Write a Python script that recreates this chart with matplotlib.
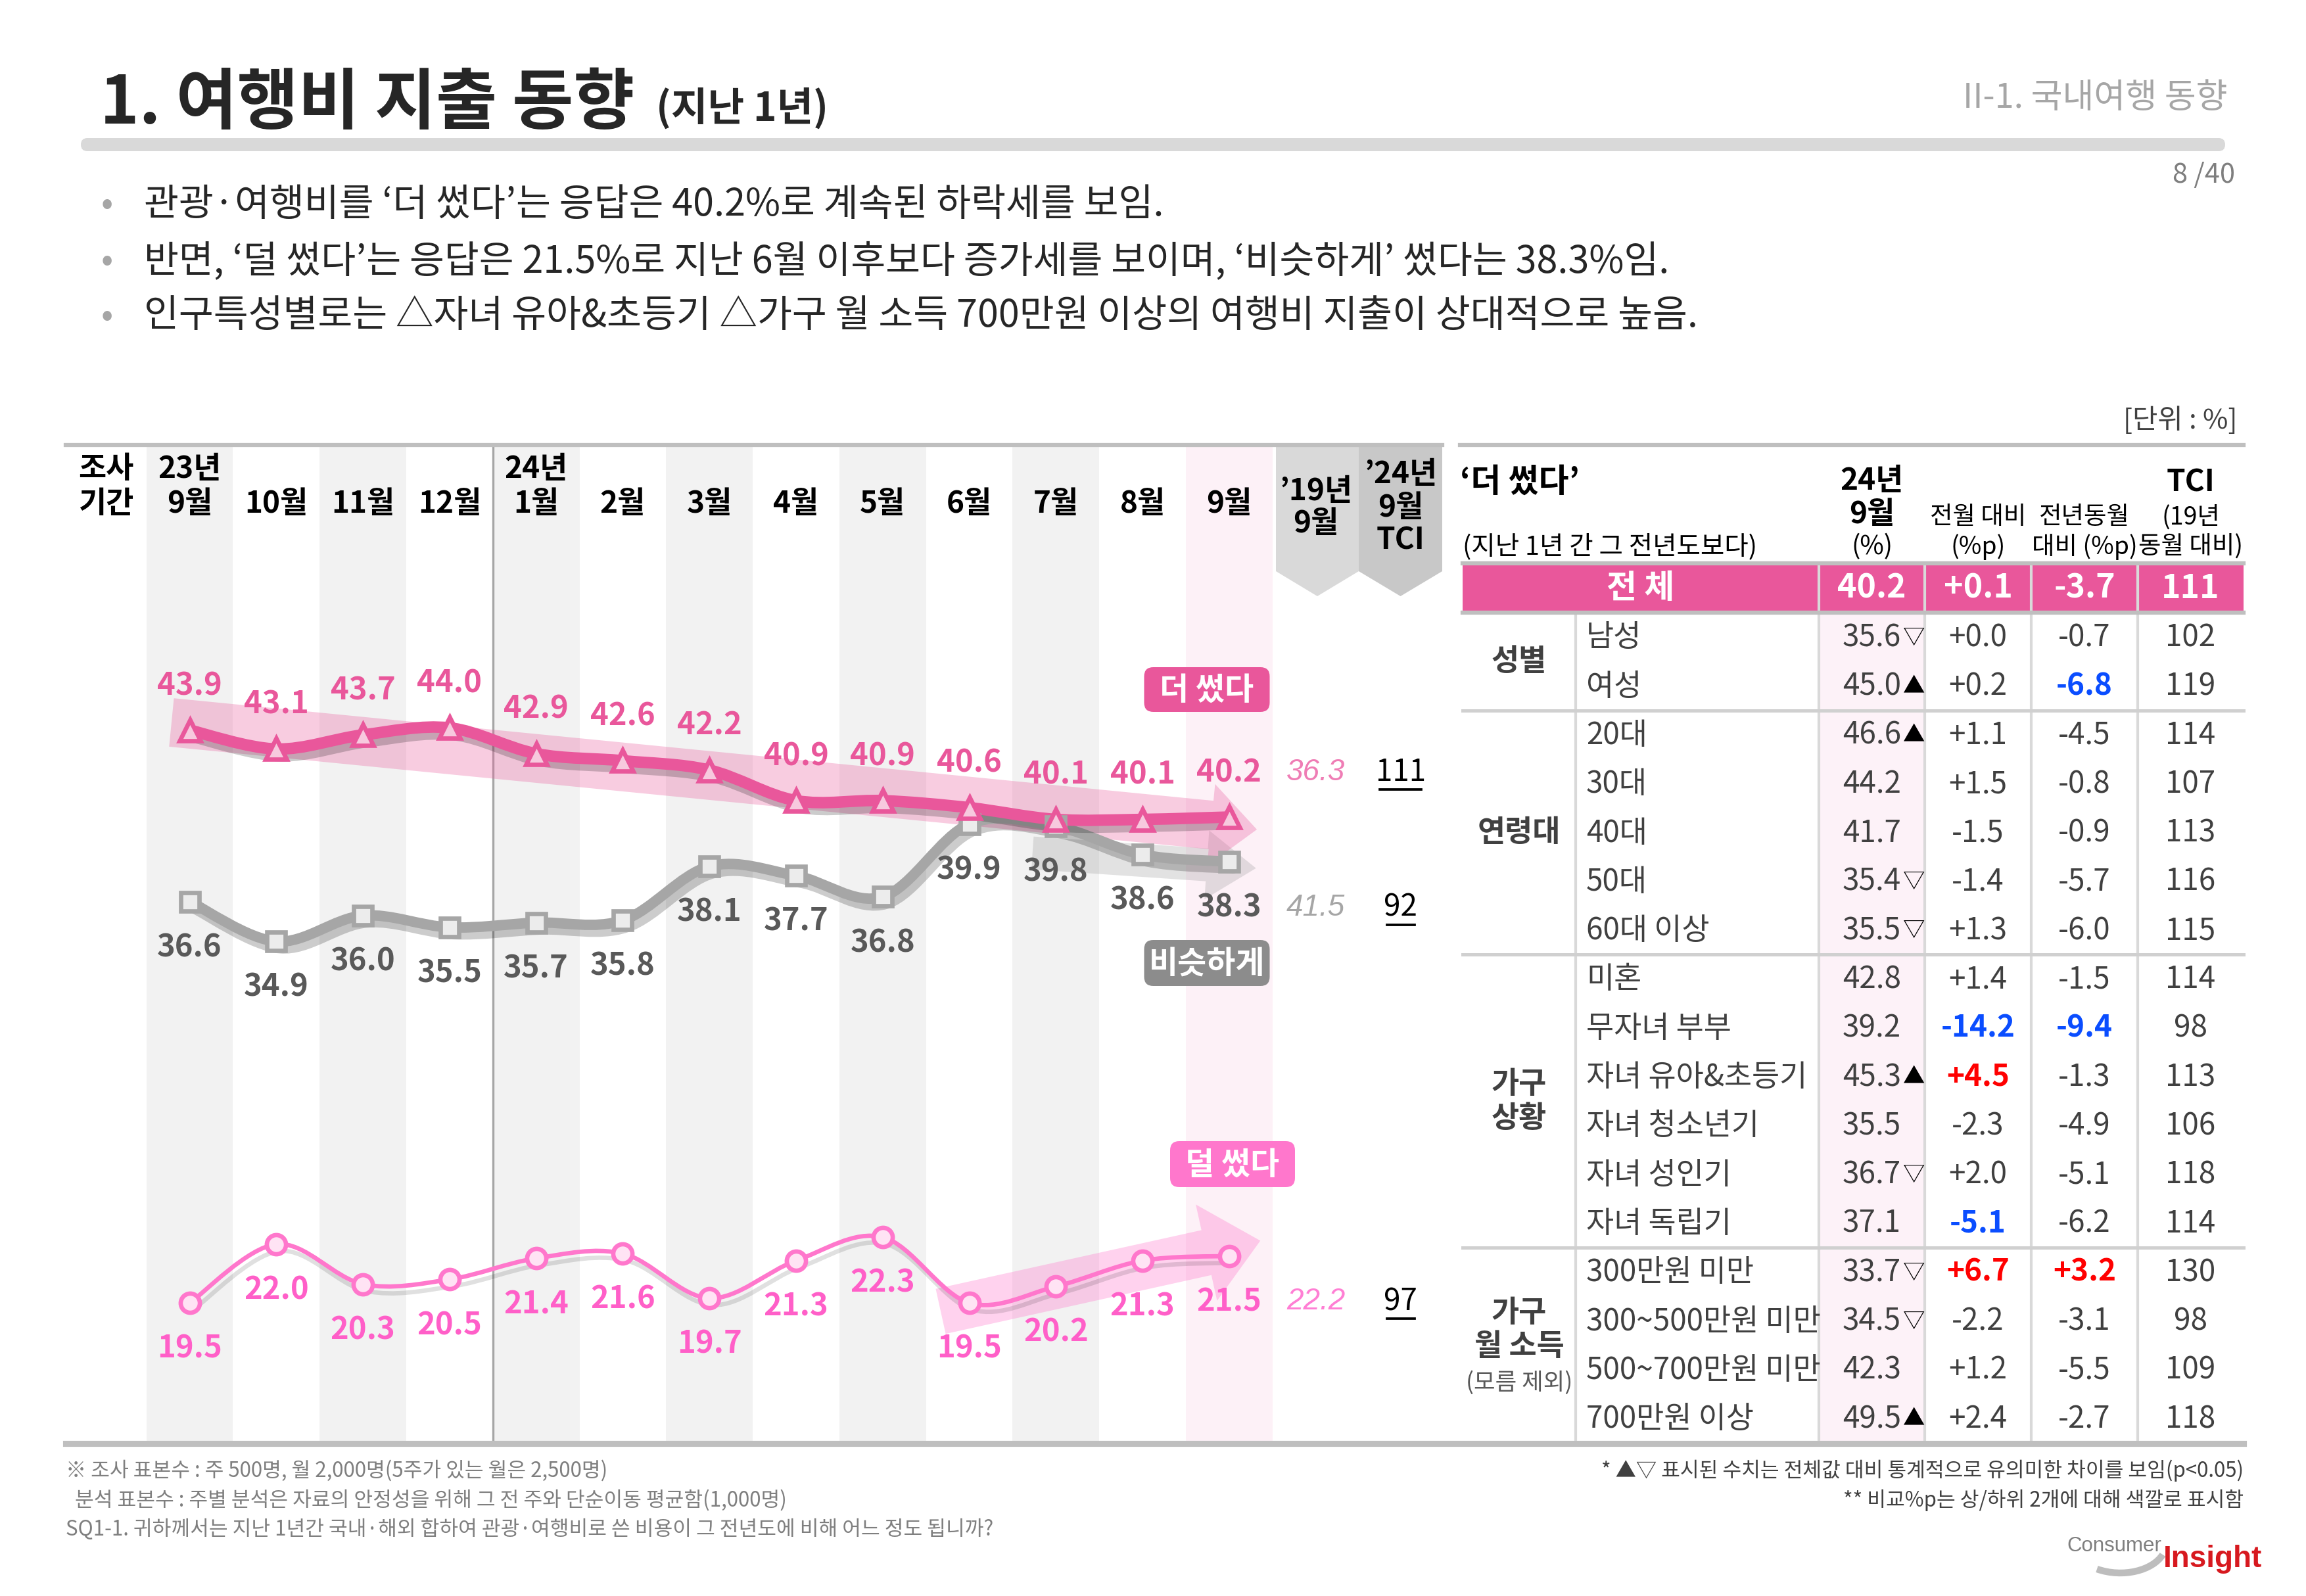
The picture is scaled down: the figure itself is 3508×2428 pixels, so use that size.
import numpy as np
import matplotlib
matplotlib.use('Agg')
import matplotlib.pyplot as plt
from matplotlib.path import Path
from matplotlib.patches import PathPatch, Polygon, FancyBboxPatch, Rectangle
from matplotlib.transforms import blended_transform_factory
import matplotlib.patheffects as pe

FONT = ['Noto Sans CJK KR', 'DejaVu Sans']
plt.rcParams['font.family'] = FONT
plt.rcParams['axes.unicode_minus'] = False

# ---------------- data ----------------
months = ['9월', '10월', '11월', '12월', '1월', '2월', '3월', '4월', '5월', '6월', '7월', '8월', '9월']
years = ['23년', '', '', '', '24년', '', '', '', '', '', '', '', '']
more_spent = [43.9, 43.1, 43.7, 44.0, 42.9, 42.6, 42.2, 40.9, 40.9, 40.6, 40.1, 40.1, 40.2]
similar = [36.6, 34.9, 36.0, 35.5, 35.7, 35.8, 38.1, 37.7, 36.8, 39.9, 39.8, 38.6, 38.3]
less_spent = [19.5, 22.0, 20.3, 20.5, 21.4, 21.6, 19.7, 21.3, 22.3, 19.5, 20.2, 21.3, 21.5]
sep2019 = [36.3, 41.5, 22.2]       # 더 썼다, 비슷하게, 덜 썼다
tci_2409 = [111, 92, 97]

total_value, total_mom, total_yoy, total_tci = 40.2, 0.1, -3.7, 111
groups = ['성별', '연령대', '가구\n상황', '가구\n월 소득']
group_sizes = [2, 5, 6, 4]
items = ['남성', '여성', '20대', '30대', '40대', '50대', '60대 이상', '미혼', '무자녀 부부',
         '자녀 유아&초등기', '자녀 청소년기', '자녀 성인기', '자녀 독립기', '300만원 미만',
         '300~500만원 미만', '500~700만원 미만', '700만원 이상']
item_value = [35.6, 45.0, 46.6, 44.2, 41.7, 35.4, 35.5, 42.8, 39.2, 45.3, 35.5, 36.7, 37.1,
              33.7, 34.5, 42.3, 49.5]
item_sig = ['▽', '▲', '▲', '', '', '▽', '▽', '', '', '▲', '', '▽', '', '▽', '▽', '', '▲']
item_mom = [0.0, 0.2, 1.1, 1.5, -1.5, -1.4, 1.3, 1.4, -14.2, 4.5, -2.3, 2.0, -5.1, 6.7, -2.2, 1.2, 2.4]
item_yoy = [-0.7, -6.8, -4.5, -0.8, -0.9, -5.7, -6.0, -1.5, -9.4, -1.3, -4.9, -5.1, -6.2, 3.2,
            -3.1, -5.5, -2.7]
item_tci = [102, 119, 114, 107, 113, 116, 115, 114, 98, 113, 106, 118, 114, 130, 98, 109, 118]

bullets = ['관광·여행비를 ‘더 썼다’는 응답은 40.2%로 계속된 하락세를 보임.',
           '반면, ‘덜 썼다’는 응답은 21.5%로 지난 6월 이후보다 증가세를 보이며, ‘비슷하게’ 썼다는 38.3%임.',
           '인구특성별로는 △자녀 유아&초등기 △가구 월 소득 700만원 이상의 여행비 지출이 상대적으로 높음.']
notes_left = ['※ 조사 표본수 : 주 500명, 월 2,000명(5주가 있는 월은 2,500명)',
              '  분석 표본수 : 주별 분석은 자료의 안정성을 위해 그 전 주와 단순이동 평균함(1,000명)',
              'SQ1-1. 귀하께서는 지난 1년간 국내·해외 합하여 관광·여행비로 쓴 비용이 그 전년도에 비해 어느 정도 됩니까?']
notes_right = ['* ▲▽ 표시된 수치는 전체값 대비 통계적으로 유의미한 차이를 보임(p<0.05)',
               '** 비교%p는 상/하위 2개에 대해 색깔로 표시함']

# ---------------- styles ----------------
PINK = '#e9579b'
LPINK = '#ff77cc'
LPINK_TXT = '#ff5fc8'
GRAY_LINE = '#a6a6a6'
GRAY_TXT = '#595959'
DARK = '#404040'
RED = '#ff0000'
BLUE = '#0a4dff'

W, H = 3508, 2429
DPI = 300
fig = plt.figure(figsize=(W / DPI, H / DPI), dpi=DPI)
fig.patch.set_facecolor('white')

CH_L, CH_R, CH_T, CH_B = 222.7, 2194.0, 678.0, 2197.0
ax = fig.add_axes([CH_L / W, 1 - CH_B / H, (CH_R - CH_L) / W, (CH_B - CH_T) / H], zorder=1)
ax.set_xlim(-0.5, 14.46)
ax.set_ylim(13.51, 56.05)
ax.axis('off')

ov = fig.add_axes([0, 0, 1, 1], zorder=2)
ov.set_xlim(0, W)
ov.set_ylim(H, 0)
ov.axis('off')
xy_tr = blended_transform_factory(ax.transData, ov.transData)

n = len(months)
x = np.arange(n)
X19, XTCI = n, n + 0.98

# stripes
for i in x:
    if i == n - 1:
        ax.axvspan(i - 0.5, i + 0.5, color='#fdf1f7', zorder=0, lw=0)
    elif i % 2 == 0:
        ax.axvspan(i - 0.5, i + 0.5, color='#f2f2f2', zorder=0, lw=0)
ax.axvline(3.5, color='#a6a6a6', lw=0.8, zorder=0.5)


def add_arrow(start, end, shaft_w, head_w, head_l, color, alpha, z):
    T = ax.transData
    p0 = T.transform(start)
    p1 = T.transform(end)
    d = p1 - p0
    u = d / np.hypot(*d)
    nv = np.array([-u[1], u[0]])
    pb = p1 - u * head_l
    pts = np.array([p0 + nv * shaft_w / 2, pb + nv * shaft_w / 2, pb + nv * head_w / 2, p1,
                    pb - nv * head_w / 2, pb - nv * shaft_w / 2, p0 - nv * shaft_w / 2])
    ax.add_patch(Polygon(T.inverted().transform(pts), closed=True, fc=color, ec='none',
                         alpha=alpha, zorder=z))


add_arrow((9.73, 38.67), (12.31, 38.02), 50, 105, 75, '#9a9a9a', 0.28, 1)
add_arrow((-0.21, 44.23), (12.32, 39.67), 74, 125, 70, PINK, 0.30, 1.1)
add_arrow((8.67, 19.14), (12.36, 22.15), 70, 150, 84, LPINK, 0.33, 1)


def smooth_path(xs, ys):
    pts = np.column_stack([xs, ys]).astype(float)
    m = len(pts)
    verts = [pts[0]]
    codes = [Path.MOVETO]
    for i in range(m - 1):
        p0 = pts[i - 1] if i > 0 else pts[i]
        p1, p2 = pts[i], pts[i + 1]
        p3 = pts[i + 2] if i + 2 < m else pts[i + 1]
        verts += [p1 + (p2 - p0) / 6, p2 - (p3 - p1) / 6, p2]
        codes += [Path.CURVE4] * 3
    return Path(verts, codes)


shadow = [pe.SimpleLineShadow(offset=(1.5, -2.5), shadow_color='k', alpha=0.2), pe.Normal()]
shadow_thin = [pe.SimpleLineShadow(offset=(1.2, -2.5), shadow_color='k', alpha=0.12), pe.Normal()]
ax.add_patch(PathPatch(smooth_path(x, similar), fill=False, ec=GRAY_LINE, lw=3.8, zorder=3,
                       path_effects=shadow, capstyle='round', joinstyle='round'))
ax.add_patch(PathPatch(smooth_path(x, more_spent), fill=False, ec=PINK, lw=4.2, zorder=3.2,
                       path_effects=shadow, capstyle='round', joinstyle='round'))
ax.add_patch(PathPatch(smooth_path(x, less_spent), fill=False, ec=LPINK, lw=1.6, zorder=3,
                       path_effects=shadow_thin, capstyle='round', joinstyle='round'))

ax.plot(x, similar, ls='none', marker='s', ms=6.5, mfc='#ececec', mec=GRAY_LINE, mew=1.6, zorder=4)
ax.plot(x, more_spent, ls='none', marker='^', ms=7.5, mfc='#f7c9de', mec=PINK, mew=1.6, zorder=4.2)
ax.plot(x, less_spent, ls='none', marker='o', ms=7, mfc='#ffe3f4', mec=LPINK, mew=1.6, zorder=4)

OFF = 16.5
series = [(more_spent, OFF, PINK, '#ef7db5'), (similar, -OFF, GRAY_TXT, '#a6a6a6'),
          (less_spent, -OFF, LPINK_TXT, '#ff7fd4')]
for k, (vals, off, col, col19) in enumerate(series):
    for xi, v in zip(x, vals):
        ax.annotate(f'{v:.1f}', (xi, v), xytext=(0, off), textcoords='offset points', ha='center',
                    va='center', fontsize=11.3, fontweight='bold', color=col, zorder=6)
    ax.annotate(f'{sep2019[k]:.1f}', (X19, vals[-1]), xytext=(0, off), textcoords='offset points',
                ha='center', va='center', fontsize=11, color=col19, zorder=6,
                family=['Liberation Sans'], style='italic')
    ax.annotate(f'{tci_2409[k]}', (XTCI, vals[-1]), xytext=(0, off), textcoords='offset points',
                ha='center', va='center', fontsize=11, color='black', zorder=6)
    px, py = ax.transData.transform((XTCI, vals[-1]))
    uy = H - py - off * DPI / 72 + 27
    half = 10.5 * len(str(tci_2409[k]))
    ov.plot([px - half, px + half], [uy, uy], color='black', lw=0.9)


# tags
def tag(cx, cy, w, h, text, fc):
    ov.add_patch(FancyBboxPatch((cx - w / 2, cy - h / 2), w, h,
                                boxstyle='round,pad=0,rounding_size=14', fc=fc, ec='none', zorder=6))
    ov.text(cx, cy, text, ha='center', va='center', color='white', fontsize=11.5,
            fontweight='bold', zorder=7)


tag(1836, 1050, 191, 68, '더 썼다', PINK)
tag(1836, 1466, 191, 70, '비슷하게', '#8c8c8c')
tag(1875, 1772, 190, 70, '덜 썼다', LPINK)

# banners
for x0, x1, c in [(1941, 2067, '#d9d9d9'), (2067, 2194, '#c8c8c8')]:
    ov.add_patch(Polygon([(x0, 678), (x1, 678), (x1, 870), ((x0 + x1) / 2, 908), (x0, 870)],
                         closed=True, fc=c, ec='none', zorder=1))

# chart header
hk = dict(ha='center', va='center', fontsize=11, fontweight='bold', color='black')
ov.text(161, 714, '조사', **hk)
ov.text(161, 767, '기간', **hk)
for i in x:
    if years[i]:
        ov.text(i, 714, years[i], transform=xy_tr, **hk)
    ov.text(i, 767, months[i], transform=xy_tr, **hk)
ov.text(X19, 748, '’19년', transform=xy_tr, **hk)
ov.text(X19, 797, '9월', transform=xy_tr, **hk)
ov.text(XTCI, 722, '’24년', transform=xy_tr, **hk)
ov.text(XTCI, 773, '9월', transform=xy_tr, **hk)
ov.text(XTCI, 823, 'TCI', transform=xy_tr, **hk)

# frame lines
ov.plot([100, 2194], [678, 678], color='#bfbfbf', lw=1.5, zorder=3)
ov.plot([2221, 3413], [678, 678], color='#bfbfbf', lw=1.5, zorder=3)
ov.plot([100, 3413], [2197, 2197], color='#bfbfbf', lw=2.2, zorder=3)

# ---------------- title area ----------------
ov.text(152, 188, '1. 여행비 지출 동향', fontsize=24.3, fontweight='bold', color='#262626', va='baseline')
ov.text(998, 184, '(지난 1년)', fontsize=14.5, fontweight='bold', color='#262626', va='baseline')
ov.text(3389, 149, 'II-1. 국내여행 동향', ha='right', va='center', fontsize=12.5, color='#a6a6a6')
ov.add_patch(FancyBboxPatch((123, 211), 3262, 20, boxstyle='round,pad=0,rounding_size=10',
                            fc='#d9d9d9', ec='none'))
ov.text(3400, 266, '8 /40', ha='right', va='center', fontsize=10, color='#7f7f7f')
for yb, t in zip([312, 398, 481], bullets):
    ov.text(163, yb, '•', ha='center', va='center', fontsize=13, color='#a6a6a6')
    ov.text(219, yb, t, ha='left', va='center', fontsize=13.8, color='#262626')
ov.text(3403, 640, '[단위 : %]', ha='right', va='center', fontsize=10, color=DARK)

# ---------------- table ----------------
edges = [2225, 2397, 2767, 2928, 3090, 3252, 3413]
HDR_B, ROW0, TBL_B = 858, 933, 2196
RH = (TBL_B - ROW0) / len(items)
cval = (edges[2] + edges[3]) / 2
cmom = (edges[3] + edges[4]) / 2
cyoy = (edges[4] + edges[5]) / 2
ctci = (edges[5] + edges[6]) / 2

ov.add_patch(Rectangle((edges[0], HDR_B), edges[6] - edges[0], ROW0 - HDR_B, fc=PINK, ec='none', zorder=1))
ov.add_patch(Rectangle((edges[2], ROW0), edges[3] - edges[2], TBL_B - ROW0, fc='#fdf2f8', ec='none', zorder=0.5))
ov.plot([edges[1], edges[1]], [ROW0, TBL_B], color='#d9d9d9', lw=1, zorder=2)
for e in edges[2:6]:
    ov.plot([e, e], [HDR_B, TBL_B], color='#d9d9d9', lw=1, zorder=2)
ov.plot([edges[0], edges[6]], [HDR_B, HDR_B], color='#bfbfbf', lw=1.5, zorder=3)
ov.plot([edges[0], edges[6]], [ROW0, ROW0], color='#bfbfbf', lw=1.5, zorder=3)

# header
ov.text(2221, 734, '‘더 썼다’', ha='left', va='center', fontsize=12, fontweight='bold', color='black')
ov.text(2225, 832, '(지난 1년 간 그 전년도보다)', ha='left', va='center', fontsize=9.5, color='black')
hb = dict(ha='center', va='center', color='black')
ov.text(cval, 732, '24년', fontsize=11, fontweight='bold', **hb)
ov.text(cval, 783, '9월', fontsize=11, fontweight='bold', **hb)
ov.text(cval, 832, '(%)', fontsize=9.5, **hb)
ov.text(cmom, 787, '전월 대비', fontsize=9, **hb)
ov.text(cmom, 832, '(%p)', fontsize=9, **hb)
ov.text(cyoy, 787, '전년동월', fontsize=9, **hb)
ov.text(cyoy, 832, '대비 (%p)', fontsize=9, **hb)
ov.text(ctci, 734, 'TCI', fontsize=11, fontweight='bold', **hb)
ov.text(ctci, 787, '(19년', fontsize=9, **hb)
ov.text(ctci, 832, '동월 대비)', fontsize=9, **hb)

# total row
ty = (HDR_B + ROW0) / 2
tw = dict(ha='center', va='center', color='white', fontsize=12, fontweight='bold', zorder=4)
ov.text((edges[0] + edges[2]) / 2, ty, '전 체', **tw)
ov.text(cval, ty, f'{total_value:.1f}', **tw)
ov.text(cmom, ty, f'{total_mom:+.1f}', **tw)
ov.text(cyoy, ty, f'{total_yoy:+.1f}', **tw)
ov.text(ctci, ty, f'{total_tci}', **tw)


def rank_colors(vals):
    order = np.argsort(vals)
    cols = [DARK] * len(vals)
    for i in order[:2]:
        if vals[i] < 0:
            cols[i] = BLUE
    for i in order[-2:]:
        if vals[i] > 0:
            cols[i] = RED
    return cols


mom_cols = rank_colors(np.array(item_mom))
yoy_cols = rank_colors(np.array(item_yoy))
tk = dict(va='center', fontsize=11, color=DARK)
for k, lab in enumerate(items):
    yc = ROW0 + (k + 0.5) * RH
    ov.text(2413, yc, lab, ha='left', **tk)
    ov.text(cval, yc, f'{item_value[k]:.1f}', ha='center', **tk)
    if item_sig[k]:
        ov.text(cval + 48, yc, item_sig[k], ha='left', va='center', fontsize=8, color='black')
    ov.text(cmom, yc, f'{item_mom[k]:+.1f}', ha='center', va='center', fontsize=11, color=mom_cols[k],
            fontweight='bold' if mom_cols[k] != DARK else 'normal')
    ov.text(cyoy, yc, f'{item_yoy[k]:+.1f}', ha='center', va='center', fontsize=11, color=yoy_cols[k],
            fontweight='bold' if yoy_cols[k] != DARK else 'normal')
    ov.text(ctci, yc, f'{item_tci[k]}', ha='center', **tk)

start = 0
for g, sz in zip(groups, group_sizes):
    y0 = ROW0 + start * RH
    y1 = ROW0 + (start + sz) * RH
    gx = (edges[0] + edges[1]) / 2
    if g.startswith('가구\n월'):
        ov.text(gx, (y0 + y1) / 2 - 24, g, ha='center', va='center', fontsize=11, fontweight='bold',
                color=DARK, linespacing=1.15)
        ov.text(gx, (y0 + y1) / 2 + 56, '(모름 제외)', ha='center', va='center', fontsize=8.5, color=GRAY_TXT)
    else:
        ov.text(gx, (y0 + y1) / 2, g, ha='center', va='center', fontsize=11, fontweight='bold',
                color=DARK, linespacing=1.15)
    if start + sz < len(items):
        ov.plot([edges[0], edges[6]], [y1, y1], color='#d0d0d0', lw=1.2, zorder=3)
    start += sz

# ---------------- footnotes ----------------
for yy, t in zip([2237, 2282, 2327], notes_left):
    ov.text(100, yy, t, ha='left', va='center', fontsize=7.5, color='#7f7f7f')
for yy, t in zip([2237, 2282], notes_right):
    ov.text(3413, yy, t, ha='right', va='center', fontsize=7.5, color='#404040')

# logo
ov.text(3288, 2352, 'Consumer', ha='right', va='center', fontsize=7.5, color='#7f7f7f',
        family=['Liberation Sans'])
ov.text(3291, 2372, 'Insight', ha='left', va='center', fontsize=11, fontweight='bold', color='#d7191f',
        family=['Liberation Sans'])
sw = Path([(3190, 2388), (3230, 2402), (3275, 2390), (3290, 2366)],
          [Path.MOVETO, Path.CURVE4, Path.CURVE4, Path.CURVE4])
ov.add_patch(PathPatch(sw, fill=False, ec='#bdbdbd', lw=2.5))

fig.savefig('out.png', dpi=DPI, facecolor='white')
